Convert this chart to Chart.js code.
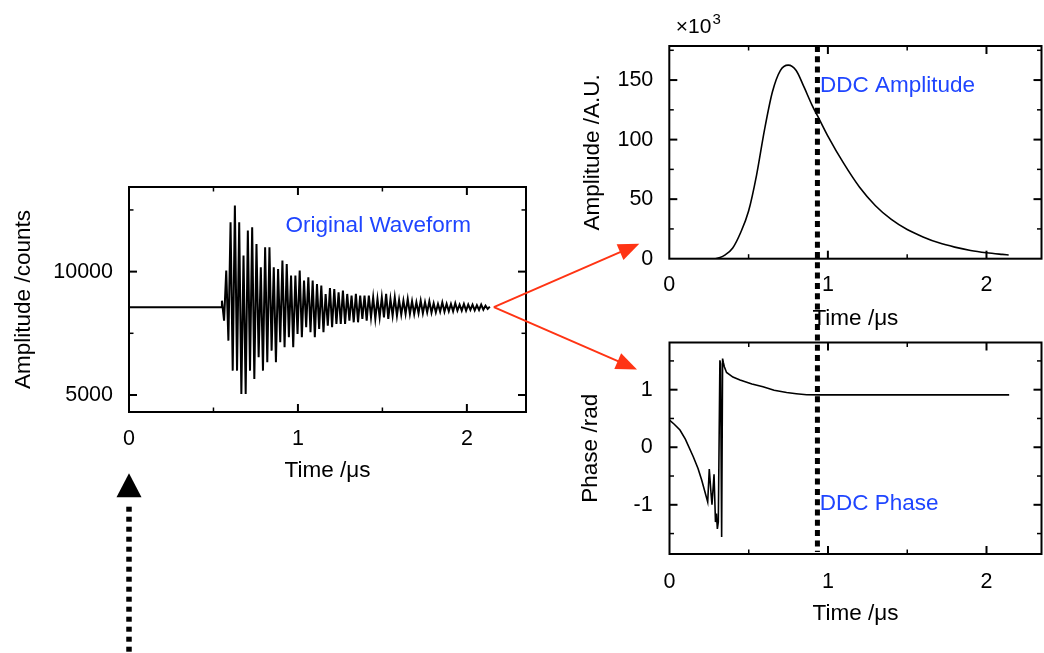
<!DOCTYPE html>
<html>
<head>
<meta charset="utf-8">
<script src="https://cdn.jsdelivr.net/npm/chart.js@4.4.1/dist/chart.umd.min.js"></script>
<style>
  html, body { margin: 0; padding: 0; background: #fff; }
  #stage { position: relative; width: 1044px; height: 653px; overflow: hidden; background: #fff; }
  #stage canvas { position: absolute; left: 0; top: 0; }
</style>
</head>
<body>
<div id="stage">
  <canvas id="waveCanvas" width="1044" height="653"></canvas>
  <canvas id="ampCanvas" width="1044" height="653"></canvas>
  <canvas id="phaseCanvas" width="1044" height="653"></canvas>
  <canvas id="overlay" width="1044" height="653"></canvas>
</div>
<script>
// ---------------- data ----------------
// Raw digitizer record: flat pre-trigger baseline, then the ringing burst
const waveBaseline = 8560;          // counts
const waveTriggerTime = 0.545;      // µs, end of the flat pre-trigger part
const waveT0 = 0.550;               // µs, first burst sample
const waveDt = 0.01279;             // µs, sample period
const waveCounts = [
  8824, 8014, 10040, 7203, 12000, 5987, 12676, 5987, 12000, 5042,
  10649, 5042, 11662, 5987, 11797, 5650, 11122, 6527, 10176, 5987,
  10986, 6324, 10986, 6797, 10176, 6324, 10108, 7135, 10446, 6933,
  10311, 7337, 9838, 6933, 9838, 7474, 10040, 7337, 9635, 7743,
  9770, 7540,
  9635, 7337, 9500, 7676, 9432, 7540, 9095, 7811, 9338, 7743,
  9297, 7879, 9162, 7879, 9230, 7879, 9095, 8014, 9027, 7946,
  9095, 7946, 9027, 8082, 9027, 8014, 9027, 8149, 8959, 8082,
  8892, 8149, 8959, 8149, 9095, 8082, 8892, 8216, 8959, 8216,
  8851, 8257, 8824, 8284, 8892, 8284, 8797, 8284, 8756, 8311,
  8824, 8311, 8756, 8351, 8797, 8338, 8716, 8351, 8689, 8378,
  8756, 8378, 8689, 8392, 8689, 8392, 8716, 8419, 8662, 8419,
  8689, 8419, 8662, 8446, 8662, 8432, 8635, 8446, 8662, 8459,
  8622, 8487, 8581
];

// DDC output: amplitude (x10^3 A.U.) and phase (rad)
const ampTime  = [0, 0.25, 0.29, 0.32, 0.35, 0.40, 0.45, 0.50, 0.55, 0.60, 0.65, 0.70, 0.75, 0.80, 0.85,
                  0.90, 0.95, 1.00, 1.10, 1.20, 1.30, 1.40, 1.50, 1.60, 1.70, 1.80, 1.90, 2.00, 2.10, 2.14];
const ampValue = [0, 0, 0, 1, 3, 9, 22, 40, 70, 108, 140, 158, 162.5, 158, 144,
                  129, 116, 103, 80, 60, 44.5, 33, 24.5, 18.3, 13.3, 9.7, 6.9, 5.0, 3.6, 3.1];

const phaseTime  = [0, 0.03, 0.066, 0.10, 0.15, 0.18, 0.203, 0.241, 0.251, 0.262, 0.268, 0.281,
                    0.290, 0.296, 0.302, 0.308, 0.318, 0.322, 0.329, 0.335, 0.340, 0.346, 0.36,
                    0.40, 0.445, 0.52, 0.59, 0.66, 0.739, 0.80, 0.865, 0.95, 1.2, 1.5, 1.8, 2.143];
const phaseValue = [0.47, 0.40, 0.30, 0.14, -0.165, -0.37, -0.57, -0.95, -0.38, -0.80, -1.00, -0.47,
                    -1.30, -1.15, -1.42, -1.30, 1.51, 1.45, -1.56, 1.54, 1.47, 1.40, 1.30,
                    1.22, 1.17, 1.10, 1.05, 0.99, 0.95, 0.93, 0.912, 0.91, 0.91, 0.91, 0.91, 0.91];

const markerTime = 0.934;   // µs, sampling instant marked on the DDC plots

// axis ticks
const timeMajor = [0, 1, 2];
const timeMinor = [0.5, 1.5];
const waveMajor = [5000, 10000];
const waveMinor = [7500, 12500];
const ampMajor  = [0, 50, 100, 150];
const ampMinor  = [25, 75, 125, 175];
const phaseMajor = [-1, 0, 1];
const phaseMinor = [-1.5, -0.5, 0.5, 1.5];

// ---------------- styling ----------------
const FONT = '"Liberation Sans", Arial, Helvetica, sans-serif';
const TICK_PX = 21.5;
const TITLE_PX = 22.5;
const NOTE_COLOR = '#1f45ff';
const PAGE_W = 1044, PAGE_H = 653;

Chart.defaults.font.family = FONT;
Chart.defaults.color = '#000';

// boxed frame with inward major/minor ticks on all four sides
const framePlugin = {
  id: 'frame',
  afterDatasetsDraw(chart, args, o) {
    const { ctx, chartArea: a, scales: { x, y } } = chart;
    ctx.save();
    ctx.strokeStyle = '#000';
    const seg = (x1, y1, x2, y2, w) => {
      ctx.lineWidth = w; ctx.beginPath(); ctx.moveTo(x1, y1); ctx.lineTo(x2, y2); ctx.stroke();
    };
    const xt = (vals, len, w) => vals.forEach(v => {
      const p = x.getPixelForValue(v);
      if (p < a.left + 1 || p > a.right - 1) return;
      seg(p, a.bottom, p, a.bottom - len, w);
      seg(p, a.top, p, a.top + len, w);
    });
    const yt = (vals, len, w) => vals.forEach(v => {
      const p = y.getPixelForValue(v);
      if (p < a.top + 1 || p > a.bottom - 1) return;
      seg(a.left, p, a.left + len, p, w);
      seg(a.right, p, a.right - len, p, w);
    });
    xt(o.xMajor, 8, 2); xt(o.xMinor, 4.5, 1.5);
    yt(o.yMajor, 8, 2); yt(o.yMinor, 4.5, 1.5);
    ctx.lineWidth = 2;
    ctx.strokeRect(a.left, a.top, a.right - a.left, a.bottom - a.top);
    ctx.restore();
  }
};

// text labels placed in data coordinates
const notesPlugin = {
  id: 'notes',
  afterDraw(chart, args, o) {
    const { ctx, scales: { x, y }, chartArea: a } = chart;
    ctx.save();
    (o.items || []).forEach(n => {
      ctx.font = TITLE_PX + 'px ' + FONT;
      ctx.fillStyle = NOTE_COLOR;
      ctx.textAlign = 'left';
      ctx.textBaseline = 'middle';
      ctx.fillText(n.text, x.getPixelForValue(n.x), y.getPixelForValue(n.y));
    });
    if (o.scaleTag) {
      // exponent tag above the value axis
      ctx.fillStyle = '#000';
      ctx.textAlign = 'left';
      ctx.textBaseline = 'alphabetic';
      ctx.font = '21px ' + FONT;
      const bx = a.left + 6.5, by = a.top - 13.5;
      ctx.fillText('×10', bx, by);
      const w = ctx.measureText('×10').width;
      ctx.font = '15px ' + FONT;
      ctx.fillText('3', bx + w + 1, by - 8.5);
    }
    ctx.restore();
  }
};

function buildChart(id, spec) {
  const a = spec.area;
  const titleHalf = TITLE_PX * 0.6;
  const yW = a.left - (spec.yTitleX - titleHalf);
  const xH = spec.xTitleDy + titleHalf;
  const tickFont = { family: FONT, size: TICK_PX };
  const titleFont = { family: FONT, size: TITLE_PX };
  return new Chart(document.getElementById(id), {
    type: 'line',
    data: {
      datasets: [{
        data: spec.points,
        borderColor: '#000',
        borderWidth: spec.lineWidth,
        pointRadius: 0,
        fill: false,
        tension: spec.smooth ? 0.4 : 0,
        cubicInterpolationMode: spec.smooth ? 'monotone' : 'default'
      }]
    },
    options: {
      responsive: false,
      animation: false,
      devicePixelRatio: 1,
      events: [],
      layout: {
        padding: {
          left: a.left - yW,
          right: PAGE_W - a.right,
          top: a.top,
          bottom: PAGE_H - a.bottom - xH
        }
      },
      plugins: {
        legend: { display: false },
        tooltip: { enabled: false },
        frame: { xMajor: timeMajor, xMinor: timeMinor, yMajor: spec.yMajor, yMinor: spec.yMinor },
        notes: { items: spec.notes, scaleTag: !!spec.scaleTag }
      },
      scales: {
        x: {
          type: 'linear',
          min: spec.xMin, max: spec.xMax,
          afterBuildTicks: s => { s.ticks = timeMajor.map(v => ({ value: v })); },
          afterFit: s => { s.height = xH; },
          grid: { display: false, drawTicks: false },
          border: { display: false },
          ticks: { padding: spec.xPad, font: tickFont, color: '#000', maxRotation: 0, autoSkip: false,
                   callback: v => String(v) },
          title: { display: true, text: 'Time /μs', font: titleFont, color: '#000', padding: 0 }
        },
        y: {
          type: 'linear',
          min: spec.yMin, max: spec.yMax,
          afterBuildTicks: s => { s.ticks = spec.yMajor.map(v => ({ value: v })); },
          afterFit: s => { s.width = yW; },
          grid: { display: false, drawTicks: false },
          border: { display: false },
          ticks: { padding: spec.yPad, font: tickFont, color: '#000', autoSkip: false,
                   callback: v => String(v) },
          title: { display: true, text: spec.yTitle, font: titleFont, color: '#000', padding: 0 }
        }
      }
    },
    plugins: [framePlugin, notesPlugin]
  });
}

// ---------------- charts ----------------
const wavePoints = [{ x: 0, y: waveBaseline }, { x: waveTriggerTime, y: waveBaseline }]
  .concat(waveCounts.map((c, i) => ({ x: waveT0 + i * waveDt, y: c })));

const waveChart = buildChart('waveCanvas', {
  area: { left: 129, right: 526, top: 187, bottom: 412 },
  yTitleX: 23.7, xTitleDy: 59, xPad: 14, yPad: 16,
  xMin: 0, xMax: 2.35, yMin: 4310, yMax: 13430,
  yMajor: waveMajor, yMinor: waveMinor,
  yTitle: 'Amplitude /counts',
  points: wavePoints, lineWidth: 2,
  notes: [{ text: 'Original Waveform', x: 0.927, y: 11865 }]
});

const ampChart = buildChart('ampCanvas', {
  area: { left: 669.3, right: 1041.5, top: 46, bottom: 258.7 },
  yTitleX: 593, xTitleDy: 60.3, xPad: 13.9, yPad: 16,
  xMin: 0, xMax: 2.347, yMin: 0, yMax: 178.6,
  yMajor: ampMajor, yMinor: ampMinor,
  yTitle: 'Amplitude /A.U.',
  points: ampTime.map((t, i) => ({ x: t, y: ampValue[i] })), lineWidth: 1.6, smooth: true,
  notes: [{ text: 'DDC Amplitude', x: 0.95, y: 145.4 }],
  scaleTag: true
});

const phaseChart = buildChart('phaseCanvas', {
  area: { left: 669.5, right: 1041.5, top: 342.5, bottom: 554 },
  yTitleX: 590.5, xTitleDy: 60, xPad: 15.5, yPad: 16.8,
  xMin: 0, xMax: 2.347, yMin: -1.855, yMax: 1.82,
  yMajor: phaseMajor, yMinor: phaseMinor,
  yTitle: 'Phase /rad',
  points: phaseTime.map((t, i) => ({ x: t, y: phaseValue[i] })), lineWidth: 1.6,
  notes: [{ text: 'DDC Phase', x: 0.948, y: -0.987 }]
});

// ---------------- connectors ----------------
function arrow(ctx, x1, y1, x2, y2, color, width, headLen, headHalf) {
  const dx = x2 - x1, dy = y2 - y1, L = Math.hypot(dx, dy);
  const ux = dx / L, uy = dy / L;
  const bx = x2 - ux * headLen, by = y2 - uy * headLen;
  ctx.strokeStyle = color; ctx.fillStyle = color; ctx.lineWidth = width;
  ctx.beginPath(); ctx.moveTo(x1, y1); ctx.lineTo(bx + ux * 2, by + uy * 2); ctx.stroke();
  ctx.beginPath();
  ctx.moveTo(x2, y2);
  ctx.lineTo(bx - uy * headHalf, by + ux * headHalf);
  ctx.lineTo(bx + uy * headHalf, by - ux * headHalf);
  ctx.closePath(); ctx.fill();
}

(function drawConnectors() {
  const ctx = document.getElementById('overlay').getContext('2d');
  const aA = ampChart.chartArea, pA = phaseChart.chartArea;

  // dotted marker through both DDC plots
  const xm = ampChart.scales.x.getPixelForValue(markerTime);
  ctx.save();
  ctx.strokeStyle = '#000';
  ctx.lineWidth = 5;
  ctx.setLineDash([6, 4.3]);
  ctx.beginPath(); ctx.moveTo(xm, aA.top); ctx.lineTo(xm, pA.bottom - 2); ctx.stroke();
  ctx.restore();

  // red arrows from the end of the raw record to the DDC plots
  const sx = waveChart.scales.x.getPixelForValue(waveT0 + (waveCounts.length - 1) * waveDt) + 4;
  const sy = waveChart.scales.y.getPixelForValue(waveBaseline);
  ctx.save();
  arrow(ctx, sx, sy, aA.left - 30, aA.bottom - 15, '#ff3414', 2, 21, 8.5);
  arrow(ctx, sx, sy, pA.left - 32.5, pA.top + 27, '#ff3414', 2, 21, 8.5);
  ctx.restore();

  // dotted upward arrow at t = 0 below the raw record
  const x0 = waveChart.scales.x.getPixelForValue(0);
  ctx.save();
  ctx.fillStyle = '#000';
  ctx.beginPath();
  ctx.moveTo(x0, 473.3);
  ctx.lineTo(x0 - 12.5, 497.3);
  ctx.lineTo(x0 + 12.5, 497.3);
  ctx.closePath(); ctx.fill();
  ctx.strokeStyle = '#000';
  ctx.lineWidth = 5.5;
  ctx.setLineDash([5, 5]);
  ctx.beginPath(); ctx.moveTo(x0, 506.7); ctx.lineTo(x0, PAGE_H + 5); ctx.stroke();
  ctx.restore();
})();
</script>
</body>
</html>
